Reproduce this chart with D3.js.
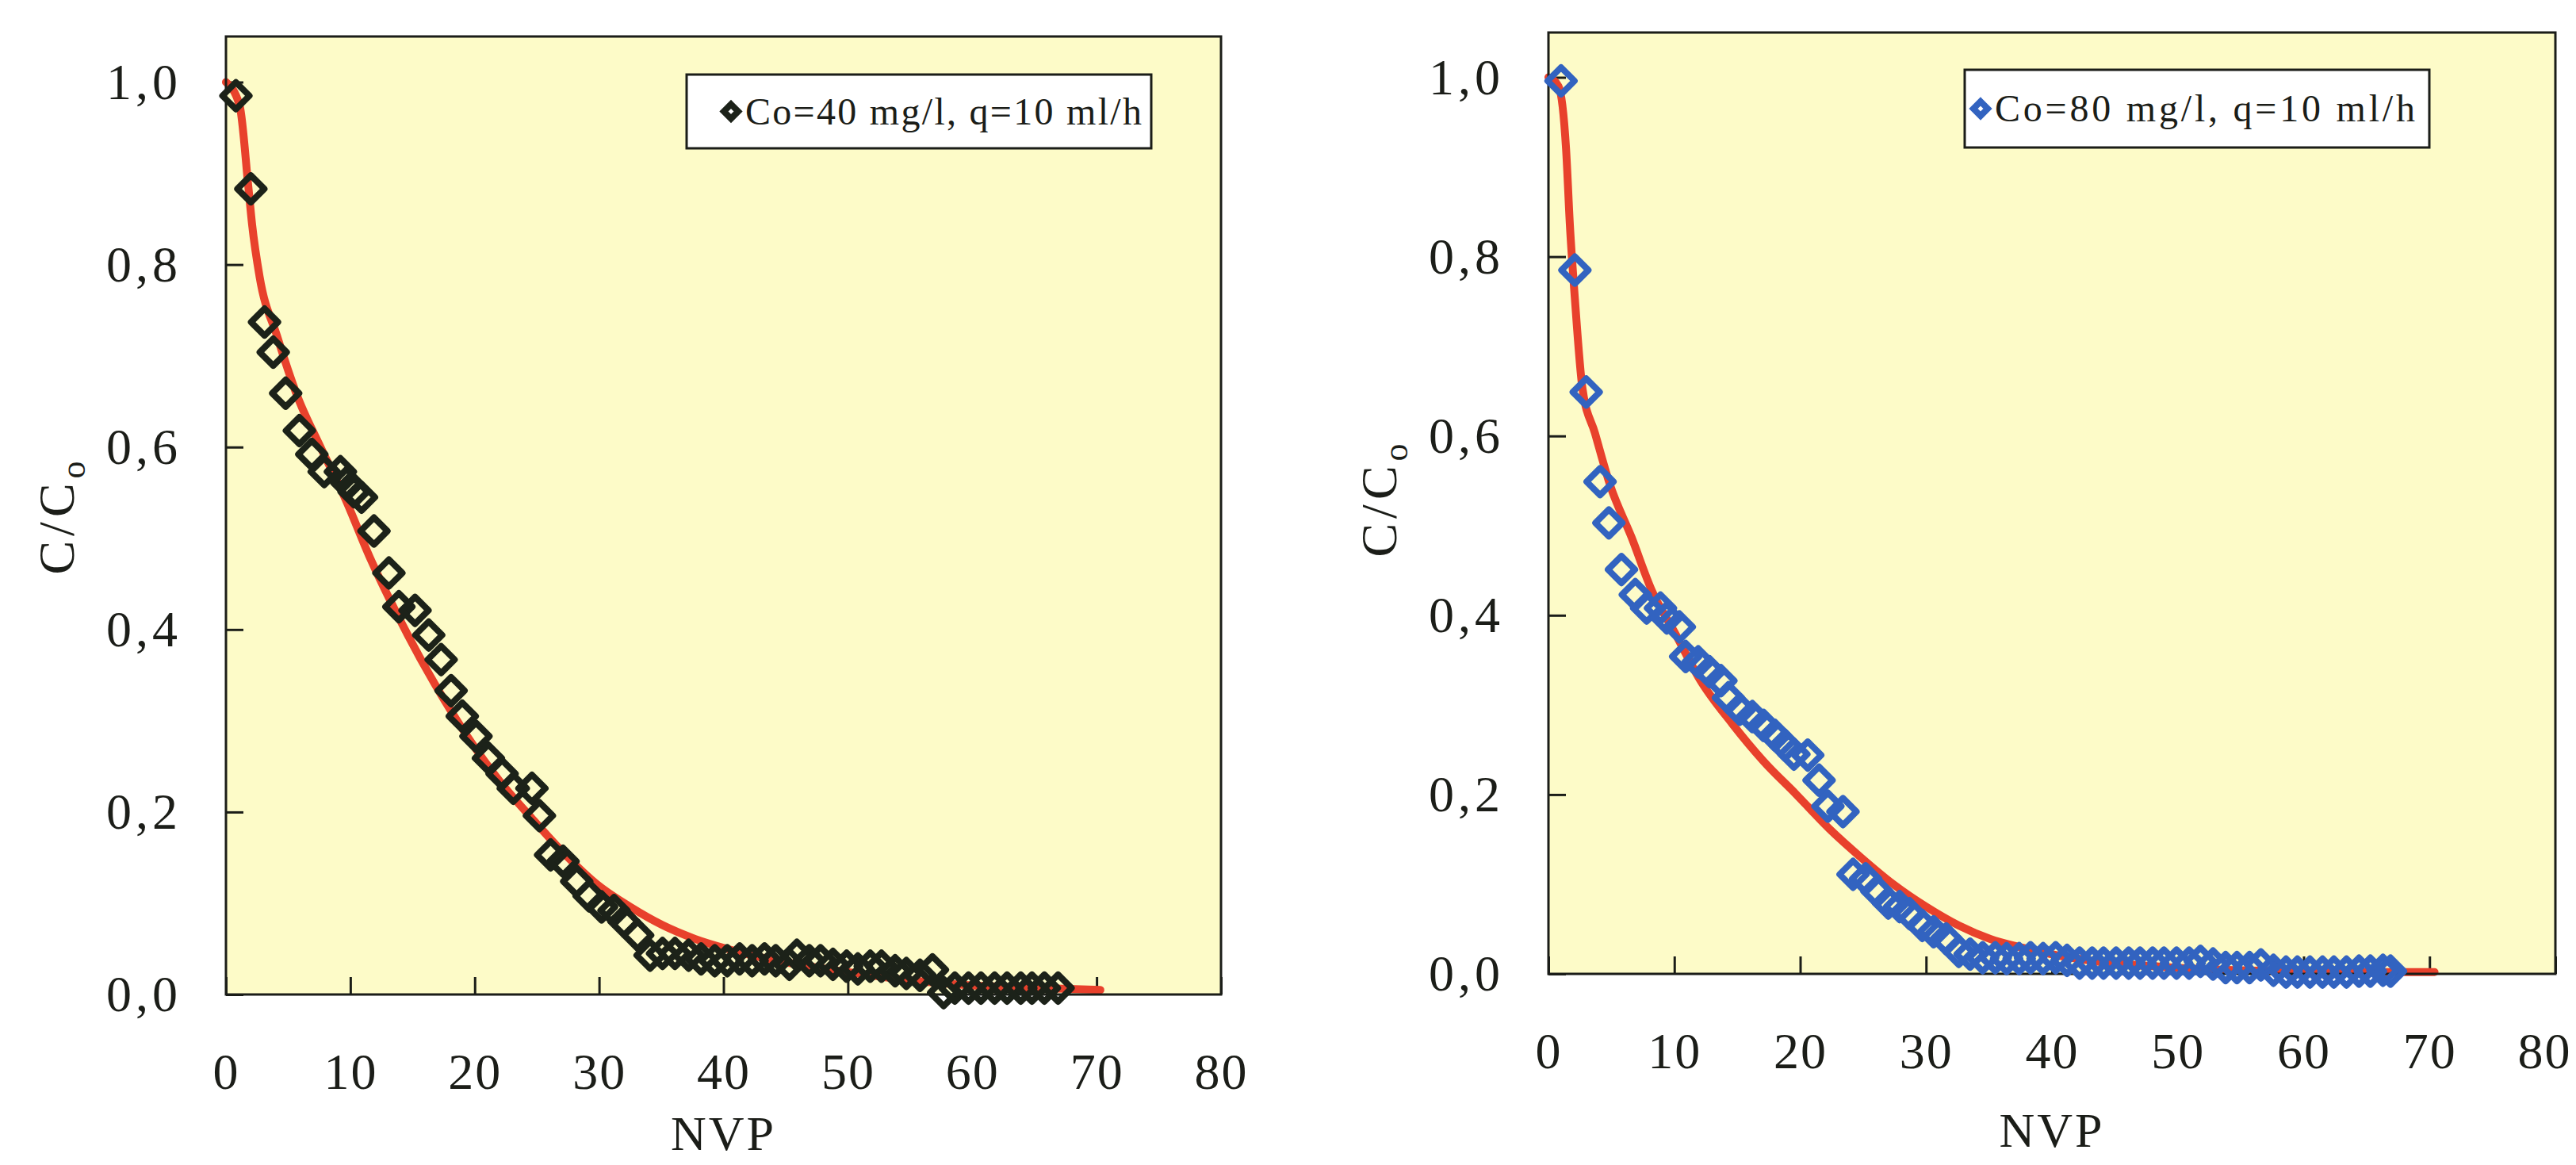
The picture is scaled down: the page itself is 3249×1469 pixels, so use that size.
<!DOCTYPE html>
<html>
<head>
<meta charset="utf-8">
<script src="https://cdn.jsdelivr.net/npm/d3@7"></script>
<style>
  body { margin: 0; background: #fff; }
  svg { display: block; }
  text { font-family: "Liberation Serif", "DejaVu Serif", serif; fill: #1b1d18; }
</style>
</head>
<body>
<svg id="chart" width="3249" height="1469"></svg>
<script>
// axis ticks
const xTicks = [0, 10, 20, 30, 40, 50, 60, 70, 80];
const yTicks = [0, 0.2, 0.4, 0.6, 0.8, 1.0];

// Co=40 mg/l experimental points
const nvp40 = [0.8,2.0,3.1,3.8,4.8,5.9,6.9,7.9,9.2,9.7,10.3,10.9,11.9,13.1,13.9,15.2,16.3,17.3,18.1,19.0,
  20.1,21.1,22.2,23.1,24.6,25.2,26.1,27.1,28.2,29.2,30.2,31.2,32.0,33.1,34.1,35.1,36.1,37.2,38.2,39.3,
  40.3,41.3,42.3,43.3,44.2,45.3,45.9,46.9,47.8,48.8,49.9,50.8,51.8,52.7,53.8,54.7,55.8,56.8,57.7,58.6,
  59.7,60.7,61.8,62.8,63.9,64.8,65.8,66.9];
const c40 = [0.985,0.883,0.737,0.704,0.659,0.618,0.592,0.573,0.573,0.561,0.551,0.545,0.508,0.462,0.425,0.421,0.394,0.367,0.333,0.305,
  0.283,0.259,0.242,0.226,0.226,0.196,0.153,0.146,0.124,0.108,0.096,0.092,0.080,0.065,0.043,0.045,0.045,0.043,0.039,0.037,
  0.037,0.039,0.037,0.039,0.037,0.033,0.043,0.037,0.037,0.033,0.031,0.028,0.031,0.031,0.026,0.023,0.021,0.027,0.002,0.007,
  0.007,0.007,0.007,0.007,0.007,0.007,0.007,0.007];
// fitted curve, Co=40
const fitNvp40 = [0,1.1,1.8,2.1,2.7,4.1,5.7,7.6,9.6,11.6,14.2,16.8,19.4,22,24.6,27.3,29.9,32.5,35.1,37.7,40.3,42.9,46.9,50.8,54.7,59.9,65.8,70.3];
const fitC40 = [1.0,0.974,0.885,0.844,0.787,0.722,0.657,0.6,0.543,0.478,0.405,0.34,0.283,0.234,0.193,0.153,0.12,0.096,0.076,0.061,0.05,0.041,0.031,0.023,0.016,0.01,0.007,0.005];

// Co=80 mg/l experimental points
const nvp80 = [1.0,2.1,3.0,4.1,4.8,5.8,6.9,7.8,8.9,9.4,10.4,10.9,11.9,12.8,13.7,14.3,15.2,16.2,17.1,18.0,
  18.8,19.5,20.6,21.5,22.2,23.4,24.2,25.2,26.1,27.0,27.9,28.7,29.7,30.6,31.6,32.6,33.5,
  34.5,35.5,36.4,37.4,38.3,39.3,40.3,41.2,42.2,43.2,44.1,45.1,46.1,47.0,48.0,48.9,49.9,50.9,51.8,52.8,53.8,54.7,55.7,56.6,57.6,
  58.6,59.5,60.5,61.5,62.4,63.4,64.4,65.3,66.3,66.9];
const c80 = [0.996,0.785,0.649,0.549,0.503,0.451,0.423,0.408,0.408,0.397,0.387,0.354,0.348,0.337,0.327,0.308,0.295,0.287,0.277,0.266,
  0.255,0.245,0.244,0.216,0.187,0.181,0.111,0.106,0.092,0.079,0.075,0.067,0.054,0.047,0.039,0.025,0.022,
  0.018,0.018,0.017,0.017,0.018,0.017,0.018,0.015,0.012,0.012,0.012,0.012,0.012,0.012,0.012,0.012,0.012,0.012,0.014,0.011,0.007,0.007,0.007,0.010,0.004,
  0.002,0.002,0.002,0.002,0.002,0.002,0.003,0.003,0.004,0.003];
// fitted curve, Co=80
const fitNvp80 = [0,0.8,1.4,1.7,2.1,2.7,3.7,4.9,6.6,8.2,10.1,12,14.6,17.1,19.7,22.3,24.9,27.4,30,32.6,35.1,37.7,40.3,43.5,48.6,55,64.7,70.4];
const fitC80 = [1.0,0.99,0.92,0.836,0.753,0.653,0.603,0.545,0.487,0.428,0.379,0.329,0.279,0.237,0.2,0.162,0.129,0.1,0.075,0.054,0.039,0.029,0.021,0.014,0.008,0.004,0.002,0.002];

const legend40 = "Co=40 mg/l, q=10 ml/h";
const legend80 = "Co=80 mg/l, q=10 ml/h";

const svg = d3.select("#chart");
const fmt = d3.formatLocale({decimal: ",", thousands: ".", grouping: [3], currency: ["", ""]}).format(".1f");

function drawPanel(p) {
  let x = d3.scaleLinear().domain([0, 80]).range([p.left, p.right]);
  let y = d3.scaleLinear().domain([0, 1.05]).range([p.bottom, p.top]);

  let g = svg.append("g");

  // yellow plot area
  g.append("rect")
    .attr("x", p.left).attr("y", p.top)
    .attr("width", p.right - p.left).attr("height", p.bottom - p.top)
    .attr("fill", "#fdfbc8");

  // axes, ticks pointing inwards
  let xAxis = g.append("g")
    .attr("transform", `translate(0,${p.bottom})`)
    .call(d3.axisBottom(x).tickValues(xTicks).tickSizeInner(-22).tickSizeOuter(0).tickPadding(74).tickFormat(d3.format("d")));
  let yAxis = g.append("g")
    .attr("transform", `translate(${p.left},0)`)
    .call(d3.axisLeft(y).tickValues(yTicks).tickSizeInner(-22).tickSizeOuter(0).tickPadding(56).tickFormat(fmt));

  [xAxis, yAxis].forEach(a => {
    a.select(".domain").remove();
    a.selectAll(".tick line").attr("stroke", "#1b1d18").attr("stroke-width", 3);
    a.selectAll(".tick text").attr("font-size", 64).attr("fill", "#1b1d18")
      .style("font-family", '"Liberation Serif", serif');
  });
  xAxis.selectAll(".tick text").attr("letter-spacing", 2);
  yAxis.selectAll(".tick text").attr("letter-spacing", 5);
  // keep the last label inside the page
  xAxis.selectAll(".tick text").filter(d => d === 80).attr("dx", p.lastDx);

  // fitted curve
  let line = d3.line().x(d => x(d[0])).y(d => y(d[1])).curve(d3.curveMonotoneX);
  g.append("path")
    .datum(p.fitX.map((v, i) => [v, p.fitY[i]]))
    .attr("d", line)
    .attr("fill", "none")
    .attr("stroke", "#e8412c")
    .attr("stroke-width", 10)
    .attr("stroke-linecap", "round");

  // frame
  g.append("rect")
    .attr("x", p.left).attr("y", p.top)
    .attr("width", p.right - p.left).attr("height", p.bottom - p.top)
    .attr("fill", "none").attr("stroke", "#1b1d18").attr("stroke-width", 3);

  // hollow diamonds
  let diamond = r => `M0,${-r}L${r},0L0,${r}L${-r},0Z`;
  g.append("g").selectAll("path")
    .data(p.xs.map((v, i) => [v, p.ys[i]]))
    .join("path")
    .attr("transform", d => `translate(${x(d[0])},${y(d[1])})`)
    .attr("d", diamond(17))
    .attr("fill", "none")
    .attr("stroke", p.color)
    .attr("stroke-width", 8)
    .attr("stroke-linejoin", "round");

  // legend
  let lg = p.legend;
  g.append("rect")
    .attr("x", lg.x0).attr("y", lg.y0)
    .attr("width", lg.x1 - lg.x0).attr("height", lg.y1 - lg.y0)
    .attr("fill", "#fff").attr("stroke", "#1b1d18").attr("stroke-width", 3);
  let my = (lg.y0 + lg.y1) / 2;
  g.append("path")
    .attr("transform", `translate(${lg.mx},${my})`)
    .attr("d", diamond(9))
    .attr("fill", "#fff")
    .attr("stroke", p.color)
    .attr("stroke-width", 8);
  g.append("text")
    .attr("x", lg.mx + 18).attr("y", my + 16)
    .attr("font-size", 48)
    .attr("textLength", lg.tw)
    .attr("lengthAdjust", "spacing")
    .text(lg.label);

  // axis titles
  let yt = g.append("text")
    .attr("transform", `translate(${p.left - 192},${p.ytY}) rotate(-90)`)
    .attr("text-anchor", "middle")
    .attr("font-size", 64)
    .attr("letter-spacing", 6);
  yt.append("tspan").text("C/C");
  yt.append("tspan").attr("font-size", 44).attr("dy", 14).text("o");

  g.append("text")
    .attr("x", (p.left + p.right) / 2)
    .attr("y", p.xtY)
    .attr("text-anchor", "middle")
    .attr("font-size", 62)
    .attr("letter-spacing", 3)
    .text("NVP");
}

drawPanel({
  left: 285, right: 1540, top: 46, bottom: 1254,
  xs: nvp40, ys: c40, fitX: fitNvp40, fitY: fitC40,
  color: "#1c2219",
  legend: {x0: 866, y0: 94, x1: 1452, y1: 187, mx: 922, tw: 500, label: legend40},
  ytY: 650, xtY: 1450, lastDx: 0
});

drawPanel({
  left: 1953, right: 3223, top: 41, bottom: 1228,
  xs: nvp80, ys: c80, fitX: fitNvp80, fitY: fitC80,
  color: "#3263c0",
  legend: {x0: 2478, y0: 88, x1: 3064, y1: 186, mx: 2498, tw: 530, label: legend80},
  ytY: 628, xtY: 1446, lastDx: -14
});
</script>
</body>
</html>
